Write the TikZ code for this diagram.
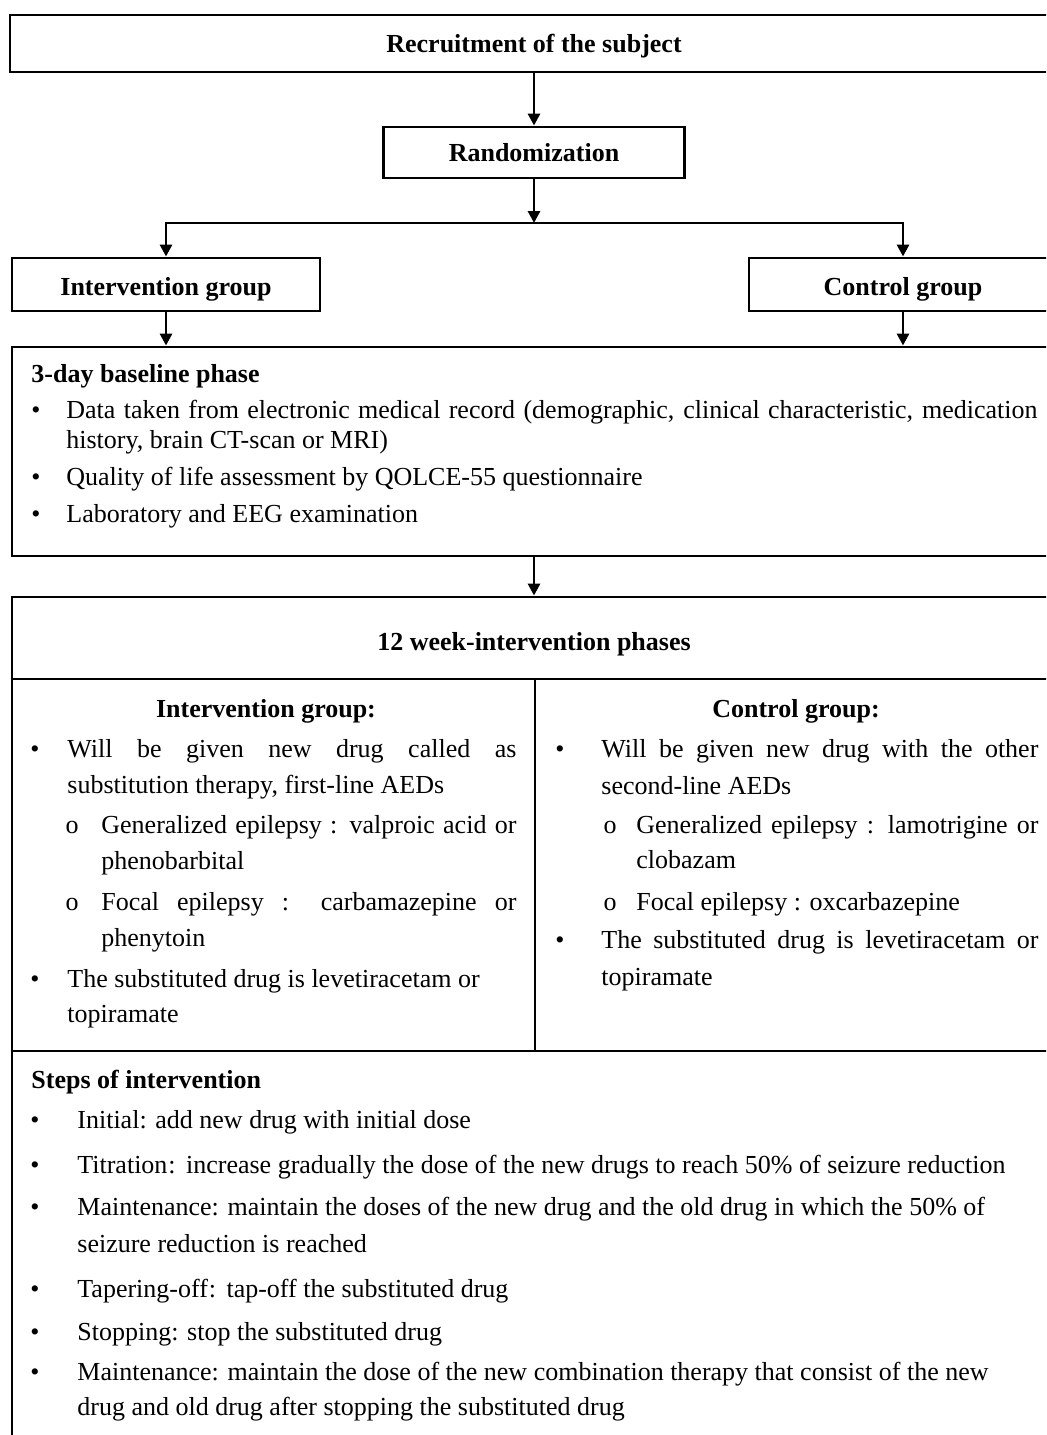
\documentclass[tikz,border=0pt]{standalone}
\usepackage{fontspec}
\setmainfont{Liberation Serif}
\usetikzlibrary{arrows.meta}
\begin{document}
\begin{tikzpicture}[x=0.5pt,y=-0.5pt,
  box/.style={draw,line width=1.45pt,inner sep=0pt,text height=8.5pt,text depth=0pt,font=\bfseries\fontsize{13}{15}\selectfont},
  arr/.style={line width=1.45pt,-{Triangle[length=6pt,width=6pt]}},
  ln/.style={line width=1.45pt},
  txt/.style={anchor=base west,inner sep=0pt,font=\fontsize{13}{15}\selectfont},
  bold/.style={anchor=base west,inner sep=0pt,font=\bfseries\fontsize{13}{15}\selectfont},
  ctr/.style={anchor=base,inner sep=0pt,font=\bfseries\fontsize{13}{15}\selectfont},
  bul/.style={anchor=base,inner sep=0pt,font=\fontsize{13}{15}\selectfont}]
\useasboundingbox (0,0) rectangle (1046,1435);
\fill[white] (0,0) rectangle (1046,1435);
\clip (0,0) rectangle (1046,1435);

% boxes
\node[box,minimum width=524pt,minimum height=28.5pt] (rec) at (534,43.5) {Recruitment of the subject};
\node[box,text height=9.2pt,minimum width=150.5pt,minimum height=25.5pt] (rand) at (534,152.5) {Randomization};
\node[box,text height=10.5pt,minimum width=154pt,minimum height=26.5pt] (intv) at (166,284.5) {Intervention group};
\node[box,text height=10.5pt,minimum width=154pt,minimum height=26.5pt] (ctrl) at (903,284.5) {Control group};
\node[box,minimum width=522pt,minimum height=104.5pt] (base) at (534,451.5) {};
\node[box,minimum width=522pt,minimum height=431.5pt] (phase) at (534,1028.5) {};

% inner lines of the phase box
\coordinate (h1) at (0,679);
\coordinate (v1) at (535,679);
\coordinate (v2) at (535,1051);
\draw[ln] (phase.west |- h1) -- (phase.east |- h1);
\draw[ln] (v1) -- (v2);
\draw[ln] (phase.west |- v2) -- (phase.east |- v2);

% connectors
\coordinate (split) at (534,223);
\draw[arr] (rec.south) -- (rand.north);
\draw[arr] (rand.south) -- (split);
\draw[arr] (split) -| (intv.north);
\draw[arr] (split) -| (ctrl.north);
\draw[arr] (intv.south) -- (intv.south |- base.north);
\draw[arr] (ctrl.south) -- (ctrl.south |- base.north);
\draw[arr] (base.south) -- (phase.north);

% baseline phase
\node[bold] (b0) at (31,382) {3-day baseline phase};
\node[bul] (bb1) at (36,418) {•};
\node[txt] (b1a) at (66,418) {\makebox[485.5pt][s]{Data taken from electronic medical record (demographic, clinical characteristic, medication}};
\node[txt] (b1b) at (66,448) {history, brain CT-scan or MRI)};
\node[bul] (bb2) at (36,485) {•};
\node[txt] (b2) at (66,485) {Quality of life assessment by QOLCE-55 questionnaire};
\node[bul] (bb3) at (36,522) {•};
\node[txt] (b3) at (66,522) {Laboratory and EEG examination};

% intervention phases
\node[ctr] (ph) at (534,650) {12 week-intervention phases};

\node[ctr] (ih) at (266,717) {Intervention group:};
\node[bul] (ib1) at (35,757) {•};
\node[txt] (i1a) at (67,757) {\makebox[224.5pt][s]{Will be given new drug called as}};
\node[txt] (i1b) at (67,793) {substitution therapy, first-line AEDs};
\node[bul] (io1) at (72,833) {o};
\node[txt] (i2a) at (101,833) {\makebox[207.5pt][s]{Generalized epilepsy : valproic acid or}};
\node[txt] (i2b) at (101,869) {phenobarbital};
\node[bul] (io2) at (72,910) {o};
\node[txt] (i3a) at (101,910) {\makebox[207.5pt][s]{Focal epilepsy : carbamazepine or}};
\node[txt] (i3b) at (101,946) {phenytoin};
\node[bul] (ib2) at (35,987) {•};
\node[txt] (i4a) at (67,987) {The substituted drug is levetiracetam or};
\node[txt] (i4b) at (67,1022) {topiramate};

\node[ctr] (ch) at (796,717) {Control group:};
\node[bul] (cb1) at (560,757) {•};
\node[txt] (c1a) at (601,757) {\makebox[218.5pt][s]{Will be given new drug with the other}};
\node[txt] (c1b) at (601,794) {second-line AEDs};
\node[bul] (co1) at (610,833) {o};
\node[txt] (c2a) at (636,833) {\makebox[201pt][s]{Generalized epilepsy : lamotrigine or}};
\node[txt] (c2b) at (636,868) {clobazam};
\node[bul] (co2) at (610,910) {o};
\node[txt] (c3a) at (636,910) {Focal epilepsy : oxcarbazepine};
\node[bul] (cb2) at (560,948) {•};
\node[txt] (c4a) at (601,948) {\makebox[218.5pt][s]{The substituted drug is levetiracetam or}};
\node[txt] (c4b) at (601,985) {topiramate};

% steps
\node[bold] (s0) at (31,1088) {Steps of intervention};
\node[bul] (sb1) at (35,1128) {•};
\node[txt] (s1) at (77,1128) {Initial: add new drug with initial dose};
\node[bul] (sb2) at (35,1173) {•};
\node[txt] (s2) at (77,1173) {Titration\kern0.5pt:\hspace{0.4em}increase gradually the dose of the new drugs to reach 50\% of seizure reduction};
\node[bul] (sb3) at (35,1215) {•};
\node[txt] (s3a) at (77,1215) {Maintenance: maintain the doses of the new drug and the old drug in which the 50\% of};
\node[txt] (s3b) at (77,1252) {seizure reduction is reached};
\node[bul] (sb4) at (35,1297) {•};
\node[txt] (s4) at (77,1297) {Tapering-off\kern0.5pt:\hspace{0.4em}tap-off the substituted drug};
\node[bul] (sb5) at (35,1340) {•};
\node[txt] (s5) at (77,1340) {Stopping: stop the substituted drug};
\node[bul] (sb6) at (35,1380) {•};
\node[txt] (s6a) at (77,1380) {Maintenance: maintain the dose of the new combination therapy that consist of the new};
\node[txt] (s6b) at (77,1415) {drug and old drug after stopping the substituted drug};
\end{tikzpicture}
\end{document}
